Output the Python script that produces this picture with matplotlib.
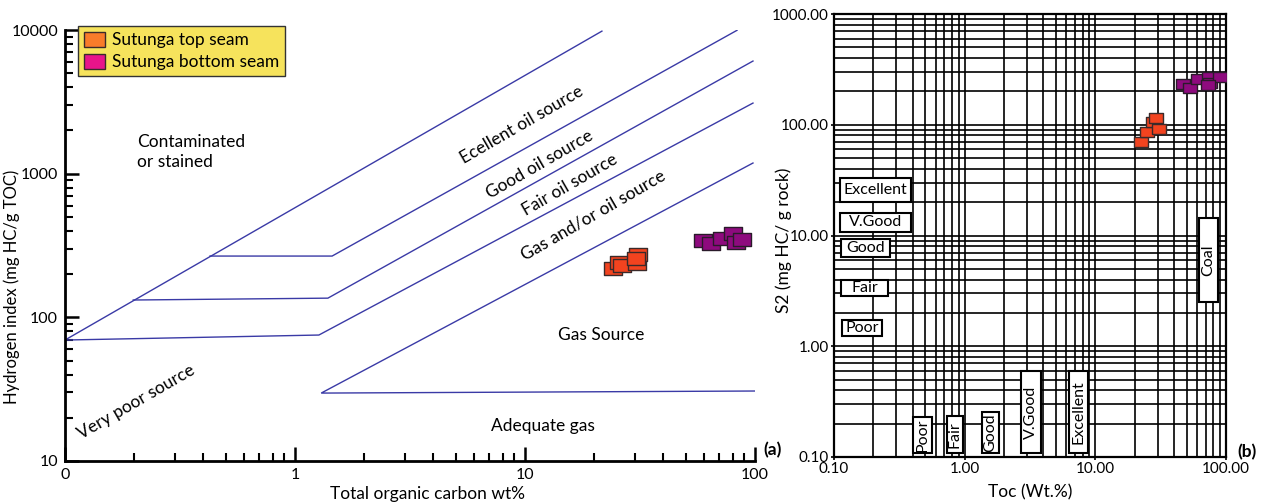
import matplotlib
matplotlib.use('Agg')
import matplotlib.pyplot as plt
from matplotlib.path import Path
from matplotlib.patches import Patch, Rectangle
from matplotlib.ticker import FixedLocator, NullFormatter, FuncFormatter, LogLocator

plt.rcParams['font.family'] = ['Lato', 'DejaVu Sans']

# ---------------- data ----------------
# Panel (a): Hydrogen index vs TOC
top_toc_a = [24.1, 25.6, 26.5, 30.7, 31.0, 30.5]
top_hi_a = [220, 243, 231, 239, 276, 259]
bottom_toc_a = [59.4, 64.4, 71.9, 80.2, 82.3, 87.8]
bottom_hi_a = [345, 329, 356, 386, 336, 350]

# Panel (b): S2 vs TOC
top_toc_b = [22.3, 24.8, 27.6, 29.1, 30.7]
top_s2_b = [69.9, 86, 106, 115, 91.6]
bottom_toc_b = [46.8, 52.9, 61.0, 74.0, 75.4, 89.8, 72.7]
bottom_s2_b = [233, 215, 259, 270, 238, 270, 228]

# Boundary lines of panel (a): (TOC list, HI list)
line_outer = ([0.1, 21.6], [69.5, 9820])
line_excellent = ([0.427, 1.45, 83.5], [267, 267, 9950])
line_good = ([0.198, 1.39, 98], [132, 136, 6080])
line_fair = ([0.1, 1.27, 98], [69.5, 75.3, 3100])
line_gas = ([100, 1.30, 98], [30.7, 29.7, 1186])
boundary_lines = [line_outer, line_excellent, line_good, line_fair, line_gas]

series_names = ['Sutunga top seam', 'Sutunga bottom seam']
legend_colors = ['#f87c2a', '#e8148a']
plot_colors = ['#f2431f', '#8e0a7e']
line_color = '#3a3aa6'

rect = Path([(-1, -0.72), (1, -0.72), (1, 0.72), (-1, 0.72), (-1, -0.72)],
            [Path.MOVETO, Path.LINETO, Path.LINETO, Path.LINETO, Path.CLOSEPOLY])

fig = plt.figure(figsize=(12.63, 5.04), dpi=100)

# ---------------- panel (a) ----------------
ax1 = fig.add_axes([65 / 1263, 1 - 461 / 504, 690 / 1263, 431 / 504])
ax1.set_xscale('log')
ax1.set_yscale('log')
ax1.set_xlim(0.1, 100)
ax1.set_ylim(10, 10000)
for s in ['top', 'right']:
    ax1.spines[s].set_visible(False)
for s in ['left', 'bottom']:
    ax1.spines[s].set_linewidth(2)

for xs, ys in boundary_lines:
    ax1.plot(xs, ys, color=line_color, lw=1.0, solid_joinstyle='miter')

ax1.plot(top_toc_a, top_hi_a, ls='none', marker=rect, ms=13,
         mfc=plot_colors[0], mec='#3a2a2a', mew=1.0, zorder=4)
ax1.plot(bottom_toc_a, bottom_hi_a, ls='none', marker=rect, ms=13,
         mfc=plot_colors[1], mec='#2a1a2a', mew=1.0, zorder=4)

ax1.xaxis.set_major_locator(FixedLocator([0.1, 1, 10, 100]))
ax1.xaxis.set_major_formatter(FuncFormatter(lambda v, p: {0.1: '0', 1: '1', 10: '10', 100: '100'}.get(round(v, 3), '')))
ax1.xaxis.set_minor_locator(LogLocator(base=10, subs=range(2, 10)))
ax1.xaxis.set_minor_formatter(NullFormatter())
ax1.yaxis.set_major_locator(FixedLocator([10, 100, 1000, 10000]))
ax1.yaxis.set_major_formatter(FuncFormatter(lambda v, p: f'{int(round(v))}'))
ax1.yaxis.set_minor_locator(LogLocator(base=10, subs=range(2, 10)))
ax1.yaxis.set_minor_formatter(NullFormatter())
ax1.tick_params(which='major', direction='in', length=10, width=1.8, labelsize=11.5, pad=5)
ax1.tick_params(which='minor', direction='in', length=6, width=1.5)

ax1.set_xlabel('Total organic carbon wt%', fontsize=12.5)
ax1.xaxis.set_label_coords(0.525, -0.058)
ax1.set_ylabel('Hydrogen index (mg HC/g TOC)', fontsize=12)
ax1.yaxis.set_label_coords(-0.065, 0.405)

tkw = dict(transform=ax1.transAxes, fontsize=12.5, ha='center', va='center')
ax1.text(0.104, 0.717, 'Contaminated\nor stained', transform=ax1.transAxes,
         fontsize=12.5, ha='left', va='center', linespacing=1.25)
ax1.text(0.662, 0.780, 'Ecellent oil source', rotation=30, rotation_mode='anchor', **tkw)
ax1.text(0.688, 0.687, 'Good oil source', rotation=30, rotation_mode='anchor', **tkw)
ax1.text(0.732, 0.640, 'Fair oil source', rotation=30, rotation_mode='anchor', **tkw)
ax1.text(0.765, 0.571, 'Gas and/or oil source', rotation=30, rotation_mode='anchor', **tkw)
ax1.text(0.103, 0.137, 'Very poor source', rotation=30, rotation_mode='anchor', **tkw)
ax1.text(0.777, 0.292, 'Gas Source', **tkw)
ax1.text(0.693, 0.081, 'Adequate gas', **tkw)

handles = [Patch(facecolor=c, edgecolor='#3a2a2a', lw=1.0) for c in legend_colors]
leg = ax1.legend(handles, series_names, loc='upper left', bbox_to_anchor=(0.019, 1.01),
                 fontsize=12.5, frameon=True, fancybox=False, facecolor='#f6e35c',
                 edgecolor='#333333', framealpha=1, borderpad=0.35, labelspacing=0.3,
                 handlelength=1.2, handleheight=1.0, handletextpad=0.4, borderaxespad=0)
leg.get_frame().set_linewidth(1.0)

fig.text(773 / 1263, 1 - 450 / 504, '(a)', fontsize=12.5, fontweight='bold', ha='center', va='center')

# ---------------- panel (b) ----------------
ax2 = fig.add_axes([834 / 1263, 1 - 457 / 504, 392 / 1263, 443 / 504])
ax2.set_xscale('log')
ax2.set_yscale('log')
ax2.set_xlim(0.1, 100)
ax2.set_ylim(0.1, 1000)
for s in ax2.spines.values():
    s.set_linewidth(1.6)
ax2.xaxis.set_major_locator(FixedLocator([0.1, 1, 10, 100]))
ax2.yaxis.set_major_locator(FixedLocator([0.1, 1, 10, 100, 1000]))
ax2.xaxis.set_minor_locator(LogLocator(base=10, subs=range(2, 10)))
ax2.yaxis.set_minor_locator(LogLocator(base=10, subs=range(2, 10)))
fmt = FuncFormatter(lambda v, p: f'{v:.2f}')
ax2.xaxis.set_major_formatter(fmt)
ax2.yaxis.set_major_formatter(fmt)
ax2.xaxis.set_minor_formatter(NullFormatter())
ax2.yaxis.set_minor_formatter(NullFormatter())
ax2.tick_params(which='major', direction='out', length=2, width=1.2, labelsize=11, pad=1.5)
ax2.tick_params(which='minor', length=0)
ax2.grid(which='both', color='black', lw=1.2)
ax2.set_axisbelow(True)

ax2.plot(top_toc_b, top_s2_b, ls='none', marker=rect, ms=10,
         mfc=plot_colors[0], mec='#3a2a2a', mew=1.0, zorder=4)
ax2.plot(bottom_toc_b, bottom_s2_b, ls='none', marker=rect, ms=10,
         mfc=plot_colors[1], mec='#2a1a2a', mew=1.0, zorder=4)

ax2.set_xlabel('Toc (Wt.%)', fontsize=12.5)
ax2.xaxis.set_label_coords(0.5, -0.062)
ax2.set_ylabel('S2 (mg HC/ g rock)', fontsize=12.5)
ax2.yaxis.set_label_coords(-0.107, 0.49)

# rating boxes (axes-fraction layout: x0, y0, w, h, rotation)
rating_boxes = [
    ('Excellent', 0.015, 0.576, 0.181, 0.054, 0),
    ('V.Good', 0.015, 0.508, 0.181, 0.043, 0),
    ('Good', 0.018, 0.451, 0.125, 0.041, 0),
    ('Fair', 0.018, 0.363, 0.120, 0.037, 0),
    ('Poor', 0.020, 0.273, 0.102, 0.036, 0),
    ('Poor', 0.202, 0.009, 0.048, 0.081, 90),
    ('Fair', 0.288, 0.009, 0.041, 0.084, 90),
    ('Good', 0.378, 0.009, 0.043, 0.093, 90),
    ('V.Good', 0.477, 0.009, 0.051, 0.185, 90),
    ('Excellent', 0.599, 0.009, 0.049, 0.185, 90),
    ('Coal', 0.931, 0.350, 0.049, 0.190, 90),
]
for lab, x0, y0, w, h, rot in rating_boxes:
    ax2.add_patch(Rectangle((x0, y0), w, h, transform=ax2.transAxes, fc='white',
                            ec='black', lw=1.5, zorder=3))
    ax2.text(x0 + w / 2, y0 + h / 2, lab, transform=ax2.transAxes, rotation=rot,
             ha='center', va='center', fontsize=11.5, zorder=5)

fig.text(1247 / 1263, 1 - 452 / 504, '(b)', fontsize=12.5, fontweight='bold', ha='center', va='center')

fig.savefig('out.png', dpi=100)
